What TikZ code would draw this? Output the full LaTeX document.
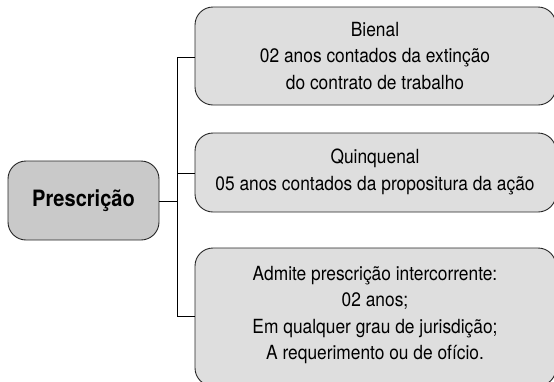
\documentclass[tikz,border=0pt]{standalone}
\usepackage{fontspec}
\setmainfont{TeX Gyre Heros}[FakeStretch=0.89]
\begin{document}
\begin{tikzpicture}[x=1pt,y=-1pt,
  sub/.style={draw=black!85,line width=0.9pt,rounded corners=18pt,fill=black!13},
  mainbox/.style={draw=black!85,line width=0.9pt,rounded corners=18pt,fill=black!21},
  lbl/.style={align=center,font=\fontsize{19.5}{26.5}\selectfont,inner sep=0pt},
  conn/.style={draw=black,line width=0.8pt}]
\useasboundingbox (0,0) rectangle (554,381);
\clip (0,0) rectangle (554,381);
\draw[mainbox] (8,161) rectangle (159,240);
\node[lbl,font=\fontsize{22.5}{26}\selectfont\bfseries] (p) at (83.5,200.5) {Prescrição};
\coordinate (pr) at (159,201);
\draw[sub] (195,7) rectangle (556,105);
\draw[sub] (195,133) rectangle (556,212);
\draw[sub] (195,248) rectangle (556,386);
\coordinate (b1) at (195,57);
\coordinate (b2) at (195,173);
\coordinate (b3) at (195,316);
\coordinate (j1) at (177,57);
\coordinate (j2) at (177,173);
\coordinate (j3) at (177,316);
\coordinate (jm) at (177,201);
\node[lbl] (t1) at (375,56) {Bienal\\02 anos contados da extinção\\do contrato de trabalho};
\node[lbl] (t2) at (375,172) {Quinquenal\\05 anos contados da propositura da ação};
\node[lbl] (t3) at (375,315) {Admite prescrição intercorrente:\\02 anos;\\Em qualquer grau de jurisdição;\\A requerimento ou de ofício.};
\draw[conn] (pr) -- (jm);
\draw[conn] (b1) -- (j1) -- (j3) -- (b3);
\draw[conn] (j2) -- (b2);
\end{tikzpicture}
\end{document}
